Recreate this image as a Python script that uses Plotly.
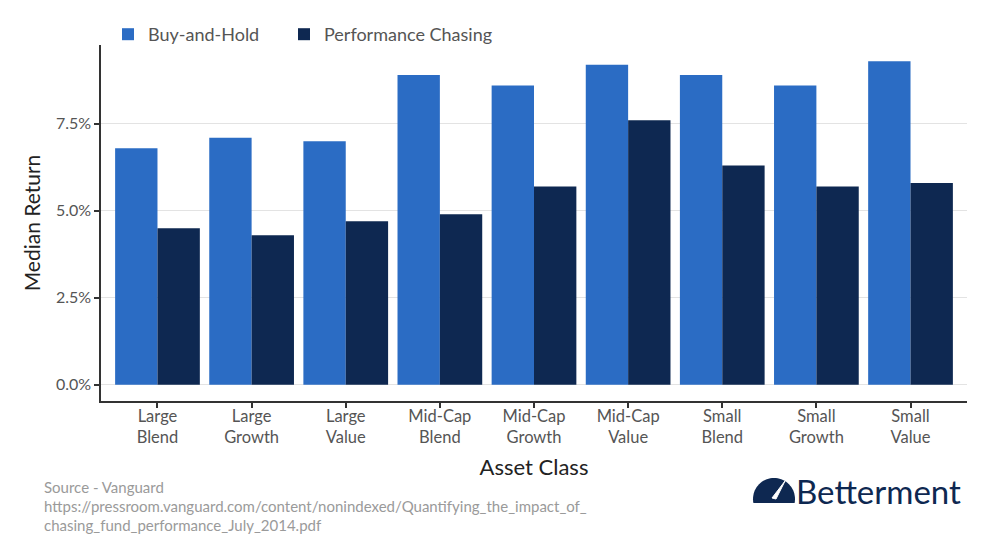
import math
import plotly.graph_objects as go

categories = ["Large<br>Blend", "Large<br>Growth", "Large<br>Value",
              "Mid-Cap<br>Blend", "Mid-Cap<br>Growth", "Mid-Cap<br>Value",
              "Small<br>Blend", "Small<br>Growth", "Small<br>Value"]
buy_and_hold = [6.8, 7.1, 7.0, 8.9, 8.6, 9.2, 8.9, 8.6, 9.3]
performance_chasing = [4.5, 4.3, 4.7, 4.9, 5.7, 7.6, 6.3, 5.7, 5.8]
y_ticks = [0, 2.5, 5.0, 7.5]
y_tick_labels = ["0.0%", "2.5%", "5.0%", "7.5%"]
source_lines = ["Source - Vanguard",
                "https://pressroom.vanguard.com/content/nonindexed/Quantifying_the_impact_of_",
                "chasing_fund_performance_July_2014.pdf"]

OFF = 8  # page body margin
W, H = 997 - OFF, 544 - OFF
# plot area in page pixels
L, R, T, B = 101, 967, 45, 401

def px(x):
    return (x - L) / (R - L)

def py(y):
    return (B - y) / (B - T)

def cy_(y):
    return 1 - (y - OFF) / H

FONT = "Lato"
fig = go.Figure()
fig.add_trace(go.Bar(name="Buy-and-Hold", x=categories, y=buy_and_hold, legend="legend",
                     showlegend=True,
                     marker=dict(color="#2B6CC4", line=dict(width=0))))
fig.add_trace(go.Bar(name="Performance Chasing", x=categories, y=performance_chasing,
                     legend="legend2", showlegend=True,
                     marker=dict(color="#0E2851", line=dict(width=0))))

# Betterment logo: gauge dome + needle (page pixel coords)
cx, cy, r = 774, 499, 21
a0 = math.asin(4 / r)
n = 40
pts = []
for i in range(n + 1):
    ang = -a0 + (math.pi + 2 * a0) * i / n
    pts.append((cx + r * math.cos(ang), cy - r * math.sin(ang)))
path = "M " + " L ".join(f"{px(x):.5f},{py(y):.5f}" for x, y in pts) + " Z"
shapes = [
    dict(type="path", xref="paper", yref="paper", path=path,
         fillcolor="#0E2851", line=dict(width=0)),
    dict(type="path", xref="paper", yref="paper",
         path=f"M {px(772):.5f},{py(498):.5f} L {px(785):.5f},{py(481):.5f} L {px(776):.5f},{py(499):.5f} Z",
         fillcolor="white", line=dict(color="white", width=1)),
]

annotations = []
for line, yc in zip(source_lines, [487, 506, 525]):
    annotations.append(dict(text=line, xref="paper", yref="paper", x=px(42), y=py(yc),
                            xanchor="left", yanchor="middle", showarrow=False,
                            font=dict(family=FONT, size=15, color="#9a9a9a")))
annotations.append(dict(text="Betterment", xref="paper", yref="paper", x=px(794), y=py(491),
                        xanchor="left", yanchor="middle", showarrow=False,
                        font=dict(family=FONT, size=33, color="#0E2851")))

legend_style = dict(orientation="h", yanchor="middle", xanchor="left", yref="container",
                    font=dict(family=FONT, size=18, color="#555555"),
                    bgcolor="rgba(0,0,0,0)", visible=True)

fig.update_layout(
    width=W, height=H,
    margin=dict(l=L - OFF, r=W - (R - OFF), t=T - OFF, b=H - (B - OFF), pad=0,
                autoexpand=False),
    paper_bgcolor="white", plot_bgcolor="white",
    showlegend=True,
    barmode="group", bargap=0.1, bargroupgap=0,
    font=dict(family=FONT, color="#555555"),
    legend=dict(x=px(108), y=cy_(34.5), **legend_style),
    legend2=dict(x=px(284), y=cy_(34.5), **legend_style),
    xaxis=dict(range=[-0.6, 8.6], showline=True, linecolor="#333333", linewidth=1.5,
               ticks="outside", ticklen=5, tickcolor="#333333", tickwidth=1.5,
               ticklabelstandoff=-6,
               showgrid=False, tickfont=dict(family=FONT, size=16.5, color="#555555"),
               title=dict(text="Asset Class", font=dict(family=FONT, size=22, color="#222222"),
                          standoff=14)),
    yaxis=dict(range=[-0.465, 9.765], showline=True, linecolor="#333333", linewidth=1.5,
               ticks="outside", ticklen=5, tickcolor="#333333", tickwidth=1.5,
               tickvals=y_ticks, ticktext=y_tick_labels,
               showgrid=True, gridcolor="#e3e3e3", gridwidth=1, zeroline=False,
               tickfont=dict(family=FONT, size=16, color="#555555"),
               title=dict(text="Median Return", font=dict(family=FONT, size=21, color="#222222"),
                          standoff=10)),
    shapes=shapes,
    annotations=annotations,
)

fig.write_html("out.html")
